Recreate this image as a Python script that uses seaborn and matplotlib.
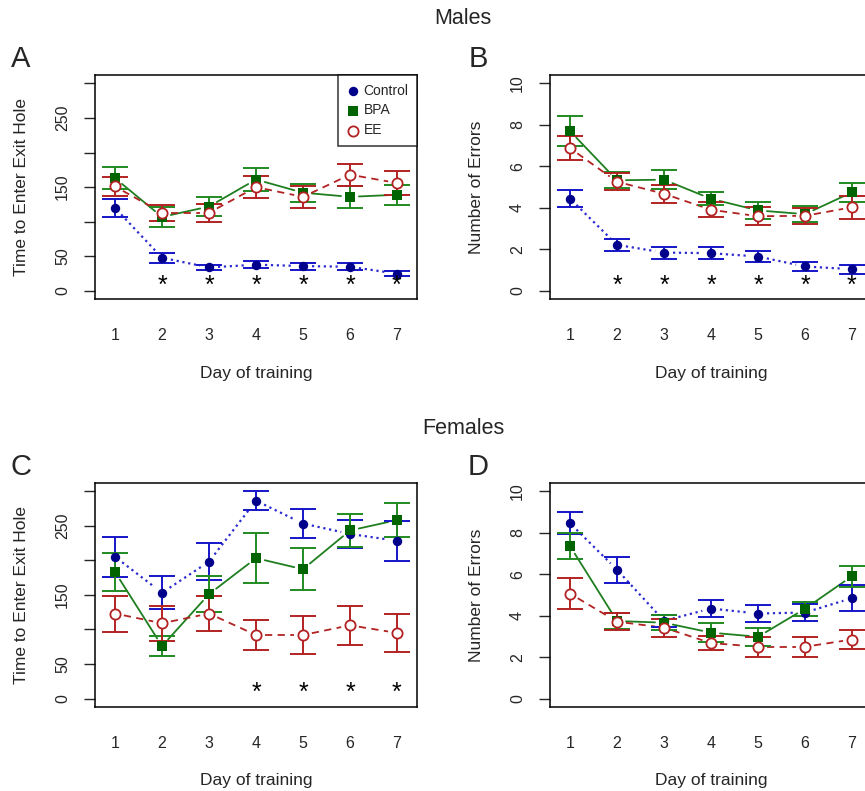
import numpy as np
import matplotlib
matplotlib.use("Agg")
import matplotlib.pyplot as plt
import matplotlib.transforms as mtransforms
import seaborn as sns

### data (means and SEM per training day)
days = [1, 2, 3, 4, 5, 6, 7]

male_time_ctrl = [120, 48, 34, 38, 36, 35, 25]
male_time_ctrl_se = [13, 7, 4, 5, 5, 5, 3.5]
male_time_bpa = [163, 107, 122, 161, 142, 136, 139]
male_time_bpa_se = [16, 14.5, 14, 16, 13, 16, 14.5]
male_time_ee = [151, 113, 113, 150, 136, 168, 156]
male_time_ee_se = [14, 11.5, 13, 16, 16, 16, 17]

male_err_ctrl = [4.45, 2.22, 1.85, 1.82, 1.66, 1.18, 1.05]
male_err_ctrl_se = [0.42, 0.30, 0.29, 0.28, 0.27, 0.22, 0.21]
male_err_bpa = [7.7, 5.33, 5.36, 4.44, 3.88, 3.70, 4.75]
male_err_bpa_se = [0.74, 0.38, 0.46, 0.32, 0.40, 0.37, 0.47]
male_err_ee = [6.88, 5.26, 4.68, 3.91, 3.60, 3.62, 4.03]
male_err_ee_se = [0.58, 0.41, 0.44, 0.37, 0.43, 0.40, 0.55]

female_time_ctrl = [205, 153, 198, 286, 253, 238, 228]
female_time_ctrl_se = [29, 24, 27, 14, 21, 20, 29]
female_time_bpa = [183, 76, 151, 203, 187, 243, 258]
female_time_bpa_se = [27, 14.5, 26, 36, 30, 24, 24]
female_time_ee = [123, 109, 123, 92, 92, 106, 95]
female_time_ee_se = [26, 25, 25, 22, 27, 28, 27]

female_err_ctrl = [8.45, 6.21, 3.75, 4.34, 4.10, 4.15, 4.84]
female_err_ctrl_se = [0.53, 0.63, 0.30, 0.43, 0.43, 0.43, 0.64]
female_err_bpa = [7.35, 3.74, 3.66, 3.18, 2.98, 4.33, 5.90]
female_err_bpa_se = [0.63, 0.40, 0.37, 0.45, 0.43, 0.34, 0.50]
female_err_ee = [5.06, 3.71, 3.42, 2.68, 2.50, 2.50, 2.85]
female_err_ee_se = [0.75, 0.40, 0.44, 0.34, 0.49, 0.48, 0.48]

stars_a = [2, 3, 4, 5, 6, 7]
stars_b = [2, 3, 4, 5, 6, 7]
stars_c = [4, 5, 6, 7]
stars_d = []

group_names = ["Control", "BPA", "EE"]

### styling
sns.set_style("white")
plt.rcParams["font.family"] = ["Liberation Sans", "DejaVu Sans"]

styles = {
    "Control": dict(marker="o", mfc="#00008B", mec="#00008B", bar="#1515C8", line="#2a2ad0", ls=":", s=46, lw=1.6),
    "BPA": dict(marker="s", mfc="#006400", mec="#006400", bar="#218a21", line="#1f7f1f", ls="-", s=44, lw=1.3),
    "EE": dict(marker="o", mfc="white", mec="#B22222", bar="#B22222", line="#B22222", ls=(0, (4, 3)), s=54, lw=1.3),
}


def gapped_line(ax, x, y, gap_px, **kw):
    ### R style type="b" line: segments stop short of the points
    pts = ax.transData.transform(np.column_stack([x, y]))
    inv = ax.transData.inverted()
    for p0, p1 in zip(pts[:-1], pts[1:]):
        d = p1 - p0
        L = np.hypot(*d)
        if L <= 2 * gap_px:
            continue
        u = d / L
        seg = inv.transform([p0 + u * gap_px, p1 - u * gap_px])
        ax.plot(seg[:, 0], seg[:, 1], zorder=1, **kw)


def draw_panel(ax, series, ylim, yticks, ylabels, ylab, stars, legend=False):
    ax.set_xlim(0.574, 7.426)
    ax.set_ylim(*ylim)
    for name, (mean, se) in zip(group_names, series):
        st = styles[name]
        gapped_line(ax, days, mean, 9, color=st["line"], ls=st["ls"], lw=st["lw"])
        ax.errorbar(days, mean, yerr=se, fmt="none", ecolor=st["bar"],
                    elinewidth=1.4, capsize=9.5, capthick=1.4, zorder=2)
        sns.scatterplot(x=days, y=mean, ax=ax, marker=st["marker"], s=st["s"],
                        color=st["mfc"], edgecolor=st["mec"],
                        linewidth=1.3 if name == "EE" else 0, zorder=3,
                        label=name if legend else None)
    trans = mtransforms.blended_transform_factory(ax.transData, ax.transAxes)
    for d in stars:
        ax.text(d, 0.03, "*", transform=trans, ha="center", va="baseline",
                fontsize=18, color="black")
    ax.set_xticks(days)
    ax.set_xticklabels([str(d) for d in days], fontsize=11.5)
    ax.tick_params(axis="x", length=0, pad=21)
    ax.set_yticks(yticks)
    ax.set_yticklabels(ylabels, rotation=90, va="center", fontsize=11.5)
    ax.tick_params(axis="y", length=8, width=1, direction="out", pad=10, left=True)
    ax.set_xlabel("Day of training", fontsize=12.5, labelpad=16)
    ax.set_ylabel(ylab, fontsize=12.5, labelpad=19)
    for sp in ax.spines.values():
        sp.set_visible(True)
        sp.set_color("black")
        sp.set_linewidth(1.1)
    if legend:
        leg = ax.legend(loc="upper right", borderaxespad=0, fontsize=10,
                        frameon=True, fancybox=False, edgecolor="black",
                        handletextpad=0.3, handlelength=0.9, labelspacing=0.42,
                        borderpad=0.62)
        leg.get_frame().set_linewidth(1.1)
    elif ax.get_legend() is not None:
        ax.get_legend().remove()


fig = plt.figure(figsize=(8.65, 7.91), dpi=100)
W, H = 865.0, 791.0
pw, ph = 322 / W, 224.3 / H
ax_a = fig.add_axes([95 / W, 1 - 299.3 / H, pw, ph])
ax_b = fig.add_axes([550 / W, 1 - 299.3 / H, pw, ph])
ax_c = fig.add_axes([95 / W, 1 - 707 / H, pw, ph])
ax_d = fig.add_axes([550 / W, 1 - 707 / H, pw, ph])

time_ticks = [0, 50, 100, 150, 200, 250, 300]
time_labels = ["0", "50", "", "150", "", "250", ""]
err_ticks = [0, 2, 4, 6, 8, 10]
err_labels = ["0", "2", "4", "6", "8", "10"]

draw_panel(ax_a, [(male_time_ctrl, male_time_ctrl_se), (male_time_bpa, male_time_bpa_se),
                  (male_time_ee, male_time_ee_se)],
           (-12, 312), time_ticks, time_labels, "Time to Enter Exit Hole", stars_a, legend=True)
draw_panel(ax_b, [(male_err_ctrl, male_err_ctrl_se), (male_err_bpa, male_err_bpa_se),
                  (male_err_ee, male_err_ee_se)],
           (-0.4, 10.4), err_ticks, err_labels, "Number of Errors", stars_b)
draw_panel(ax_c, [(female_time_ctrl, female_time_ctrl_se), (female_time_bpa, female_time_bpa_se),
                  (female_time_ee, female_time_ee_se)],
           (-12, 312), time_ticks, time_labels, "Time to Enter Exit Hole", stars_c)
draw_panel(ax_d, [(female_err_ctrl, female_err_ctrl_se), (female_err_bpa, female_err_bpa_se),
                  (female_err_ee, female_err_ee_se)],
           (-0.4, 10.4), err_ticks, err_labels, "Number of Errors", stars_d)

### row titles and panel letters
fig.text(463 / W, 1 - 19 / H, "Males", ha="center", va="center", fontsize=15.5)
fig.text(463 / W, 1 - 428 / H, "Females", ha="center", va="center", fontsize=15.5)
for letter, (x, y) in zip("ABCD", [(21, 59), (478, 59), (21, 467), (478, 467)]):
    fig.text(x / W, 1 - y / H, letter, ha="center", va="center", fontsize=21)

fig.savefig("out.png", dpi=100)
